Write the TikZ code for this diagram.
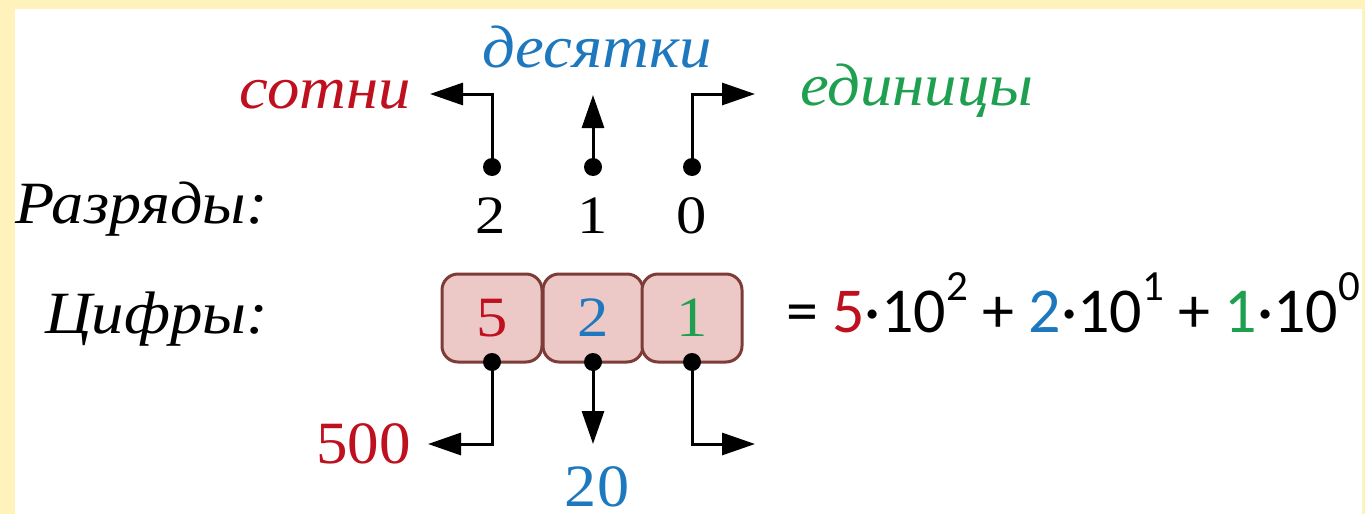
\documentclass[tikz,border=0pt]{standalone}
\usepackage{fontspec}
\setmainfont{Liberation Serif}
\newfontfamily\eqfont{Carlito}
\usetikzlibrary{arrows.meta}

\definecolor{frameY}{RGB}{255,242,186}
\definecolor{cRed}{RGB}{190,16,30}
\definecolor{cBlue}{RGB}{30,120,190}
\definecolor{cGreen}{RGB}{30,160,80}
\definecolor{boxFill}{RGB}{236,200,198}
\definecolor{boxDraw}{RGB}{125,60,55}

% superscript exponent for the expanded form
\newcommand\expo[1]{\raisebox{0.5em}{\fontsize{43pt}{43pt}\selectfont #1}}
% horizontally widened text
\newcommand\widen[2]{\scalebox{#1}[1]{#2}}

\tikzset{
  lbl/.style={inner sep=0pt, font=\fontsize{60pt}{60pt}\selectfont\itshape},
  val/.style={inner sep=0pt, font=\fontsize{60pt}{60pt}\selectfont},
  num/.style={inner sep=0pt, font=\fontsize{54pt}{54pt}\selectfont},
  pin/.style={circle, fill=black, inner sep=0pt, minimum size=18pt},
  link/.style={line width=3pt, -{Triangle[length=33pt,width=22pt]}},
  cell/.style={draw=boxDraw, line width=3pt, fill=boxFill, rounded corners=16pt,
    minimum width=100pt, minimum height=88pt, inner sep=0pt,
    font=\fontsize{57pt}{57pt}\selectfont},
}

\begin{document}
\begin{tikzpicture}[x=1pt,y=-1pt]
\useasboundingbox (0,0) rectangle (1365,514);
\fill[frameY] (0,0) rectangle (1365,514);
\fill[white] (15,9) rectangle (1362,514);

% place-value names
\node[lbl, text=cRed, anchor=base east] (sotni) at (411,108) {\widen{1.08}{сотни}};
\node[lbl, text=cBlue, anchor=base] (desyatki) at (597,67) {\widen{1.08}{десятки}};
\node[lbl, text=cGreen, anchor=base west] (edinicy) at (800,105) {\widen{1.08}{единицы}};

% row captions
\node[lbl, anchor=base west] (razryady) at (15,223) {\widen{1.07}{Разряды:}};
\node[lbl, anchor=base west] (cifry) at (45,333) {\widen{1.08}{Цифры:}};

% position numbers
\node[num, anchor=base] (r2) at (491,233) {\widen{1.12}{2}};
\node[num, anchor=base] (r1) at (593,233) {\widen{1.12}{1}};
\node[num, anchor=base] (r0) at (692,233) {\widen{1.12}{0}};

% pins above the position numbers
\node[pin] (p2) at (492,167) {};
\node[pin] (p1) at (593,167) {};
\node[pin] (p0) at (692,167) {};
\coordinate (t2) at (430,94);
\coordinate (t1) at (593,95);
\coordinate (t0) at (755,94);
\draw[link] (p2.center) |- (t2);
\draw[link] (p1.center) -- (t1);
\draw[link] (p0.center) |- (t0);

% digit cells
\node[cell, text=cRed]   (c5) at (492,318) {\widen{1.1}{5}};
\node[cell, text=cBlue]  (c2) at (593,318) {\widen{1.1}{2}};
\node[cell, text=cGreen] (c1) at (692,318) {\widen{1.1}{1}};

% pins under the cells
\node[pin] (q5) at (492,362) {};
\node[pin] (q2) at (593,362) {};
\node[pin] (q1) at (692,362) {};
\coordinate (b5) at (428,444);
\coordinate (b2) at (593,444);
\coordinate (b1) at (755,444);
\draw[link] (q5.center) |- (b5);
\draw[link] (q2.center) -- (b2);
\draw[link] (q1.center) |- (b1);

% digit values
\node[val, text=cRed, anchor=base east] (v500) at (411,463) {\widen{1.05}{500}};
\node[val, text=cBlue, anchor=base] (v20) at (597,506) {\widen{1.07}{20}};

% expanded form
\node[inner sep=0pt, anchor=base west, font=\eqfont\fontsize{64pt}{64pt}\selectfont] (eq) at (786,332)
  {= \textcolor{cRed}{5}·10\expo{2} + \textcolor{cBlue}{2}·10\expo{1} + \textcolor{cGreen}{1}·10\expo{0}};
\end{tikzpicture}
\end{document}
